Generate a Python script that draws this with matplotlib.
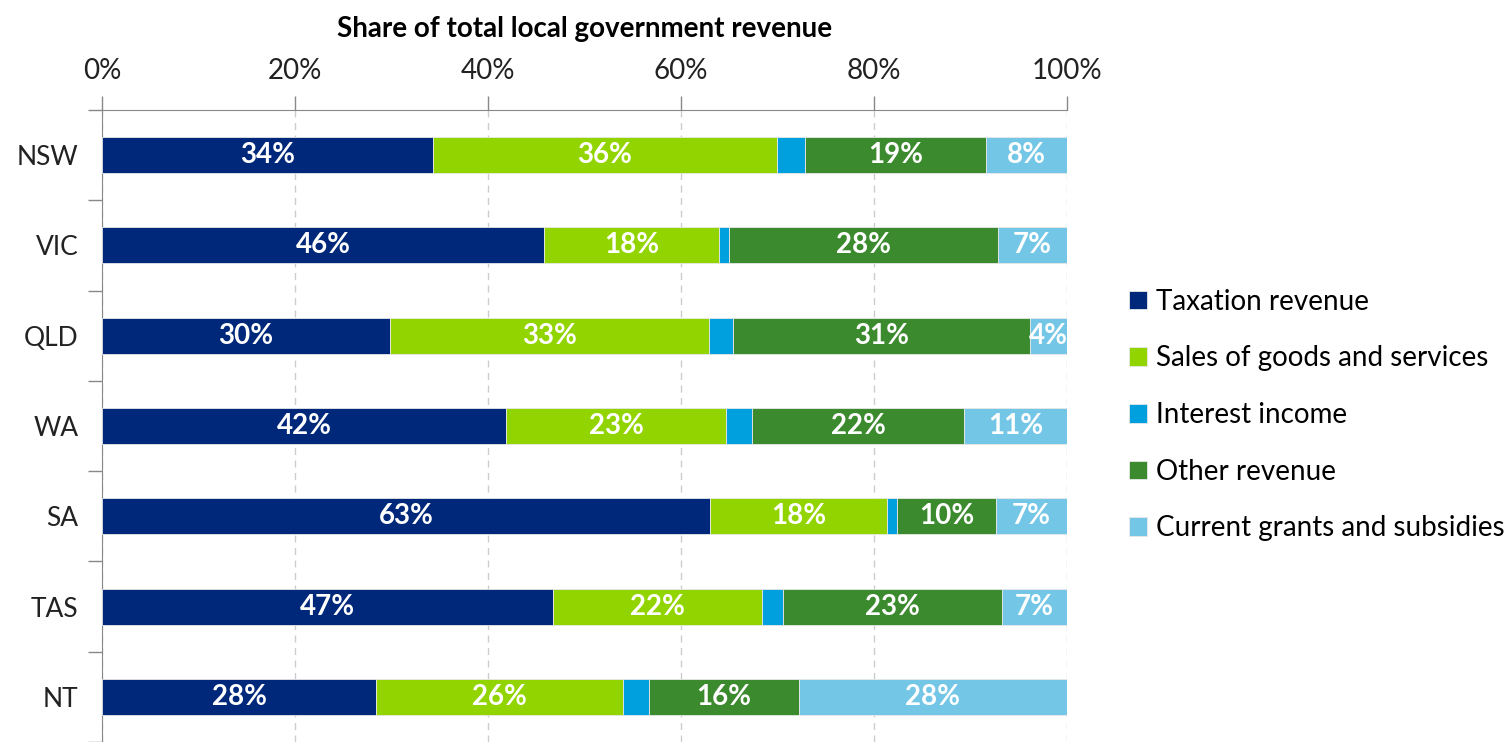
import numpy as np
import matplotlib.pyplot as plt
from matplotlib.ticker import PercentFormatter

plt.rcParams['font.family'] = ['Lato', 'DejaVu Sans']

states = ["NSW", "VIC", "QLD", "WA", "SA", "TAS", "NT"]
series = ["Taxation revenue", "Sales of goods and services", "Interest income",
          "Other revenue", "Current grants and subsidies"]
taxation = [34.3, 45.8, 29.8, 41.9, 63.0, 46.7, 28.4]
sales = [35.6, 18.1, 33.1, 22.8, 18.3, 21.7, 25.6]
interest = [2.9, 1.1, 2.5, 2.7, 1.1, 2.2, 2.7]
other = [18.8, 27.8, 30.8, 21.9, 10.2, 22.7, 15.5]
grants = [8.4, 7.2, 3.8, 10.7, 7.4, 6.7, 27.8]
colors = ["#00287a", "#92d400", "#00a0de", "#3c8a2e", "#74c6e6"]
show_label = [True, True, False, True, True]

fig = plt.figure(figsize=(15.11, 7.42), dpi=100)
ax = fig.add_axes([0.0675, 0.0, 0.6387, 0.8518])

y = np.arange(len(states))
left = np.zeros(len(states))
for name, vals, col, lab in zip(series, [taxation, sales, interest, other, grants], colors, show_label):
    vals = np.array(vals)
    ax.barh(y, vals, left=left, height=0.4, color=col, edgecolor="#e8e8e8",
            linewidth=0.6, label=name, zorder=3)
    if lab:
        for yi, l, v in zip(y, left, vals):
            ax.text(l + v / 2, yi, f"{v:.0f}%", ha="center", va="center", color="white",
                    fontsize=20, fontweight="bold", zorder=4)
    left += vals

ax.set_xlim(0, 100)
ax.set_ylim(len(states) - 0.5, -0.5)
ax.set_yticks(y)
ax.set_yticklabels(states, fontsize=19, color="#222222")
ax.set_yticks(np.arange(len(states) + 1) - 0.5, minor=True)
ax.tick_params(axis="y", which="major", length=0, pad=17)
ax.tick_params(axis="y", which="minor", length=10, color="#888888", width=1)
ax.xaxis.tick_top()
ax.xaxis.set_label_position("top")
ax.set_xticks(np.arange(0, 101, 20))
ax.xaxis.set_major_formatter(PercentFormatter(decimals=0))
ax.tick_params(axis="x", length=10, color="#888888", width=1, labelsize=20,
               labelcolor="#222222", pad=9)
ax.set_xlabel("Share of total local government revenue", fontsize=20, fontweight="bold",
              labelpad=15)
ax.grid(axis="x", color="#cccccc", linestyle=(0, (5, 4)), linewidth=1, zorder=0)
for s in ["right", "bottom"]:
    ax.spines[s].set_visible(False)
ax.spines["left"].set_color("#888888")
ax.spines["top"].set_color("#888888")

leg = fig.legend(loc="center left", bbox_to_anchor=(0.740, 0.4407), frameon=False,
                 fontsize=20, handlelength=0.65, handleheight=0.65, handletextpad=0.3,
                 labelspacing=1.1, borderaxespad=0)

fig.savefig("out.png", dpi=100)
